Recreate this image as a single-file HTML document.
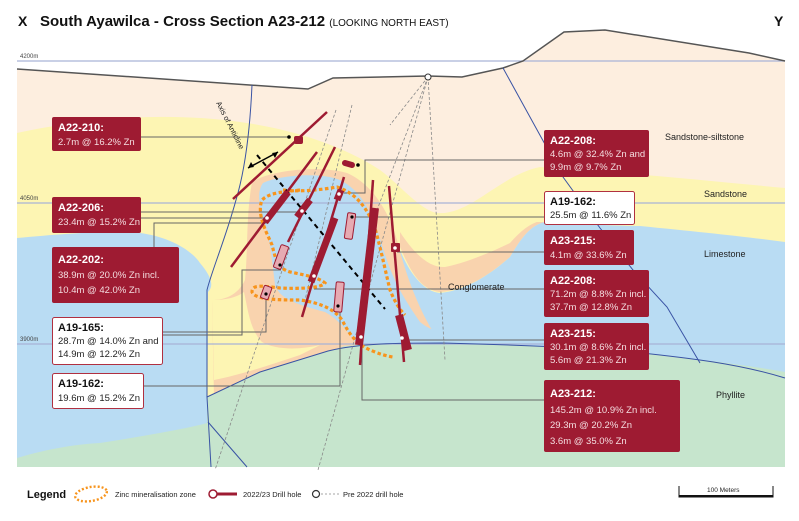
<!DOCTYPE html>
<html><head><meta charset="utf-8"><style>
html,body{margin:0;padding:0;background:#fff;}
svg{display:block;font-family:"Liberation Sans",sans-serif;}
.bt{font-weight:bold;font-size:11px;fill:#fff;}
.bs{font-size:9.5px;fill:#f4dde0;}
.wt{font-weight:bold;font-size:11px;fill:#111;}
.ws{font-size:9.5px;fill:#222;}
.lab{font-size:9px;fill:#222;}
.cn{stroke:#666;stroke-width:1;fill:none;}
</style></head><body>
<svg width="799" height="521" viewBox="0 0 799 521">
<rect width="799" height="521" fill="#fff"/>
<path d="M17,69 L308,89 L333,78 L428,76 L462,77 L503,68 L523,61 L564,32 L605,30 L749,53 L785,61 L785,467 L17,467 Z" fill="#fdeedf"/>
<path d="M17,133 C90,117 170,112 240,122 C300,130 350,150 380,170 C400,185 420,210 437,213 C470,216 500,175 540,167 C620,172 700,180 785,188 L785,467 L17,467 Z" fill="#fdf5b3"/>
<path d="M400,247 C410,270 420,290 440,292 C470,290 495,270 510,257 C520,240 530,225 545,222 L400,222 Z" fill="#f9d3ae"/>
<path d="M400,232 C415,255 430,268 445,267 C470,262 495,250 510,243 C520,232 530,222 545,220 L400,222 Z" fill="#fdf5b3"/>
<path d="M545,222 C580,224 620,226 640,226 C700,232 740,236 785,242 L785,467 L400,467 L400,250 C410,275 425,292 440,293 C470,290 495,270 510,257 C520,240 530,225 545,222 Z" fill="#b9dcf3"/>
<!-- peach rim around central zone and lower band -->
<path d="M252,182 C270,170 320,165 347,173 C372,184 388,210 397,240 C407,280 420,310 432,330 L410,360 L330,352 L300,360 C270,375 240,390 214,398 L212,300 C225,300 238,295 245,280 C248,250 246,215 252,182 Z" fill="#f9d3ae"/>
<path d="M212,300 C225,300 236,298 244,292 C248,310 250,330 262,342 C275,350 300,350 320,345 L300,355 C270,365 240,375 214,380 Z" fill="#fdf5b3"/>
<!-- central blue pocket -->
<path d="M263,183 C280,175 320,172 340,180 C360,190 372,210 382,245 C392,280 405,300 420,322 C440,338 460,335 470,330 L470,350 L390,355 L360,348 C350,335 340,320 325,312 C300,305 280,300 275,285 C272,260 270,235 262,215 C258,200 258,190 263,183 Z" fill="#b9dcf3"/>
<path d="M17,238 C60,234 110,230 140,233 C165,236 190,248 200,263 C210,275 215,285 208,292 L207,467 L17,467 Z" fill="#b9dcf3"/>
<path d="M17,458 C50,448 80,444 100,443 C150,435 190,428 207,423 L207,397 L260,372 L328,351 L345,346 C380,343 410,343 443,343 C520,345 590,348 633,352 C690,358 740,364 785,372 L785,467 L17,467 Z" fill="#c6e5cd"/>
<line x1="17" y1="61" x2="785" y2="61" stroke="#a9b3d6" stroke-width="1.3"/>
<line x1="17" y1="203" x2="785" y2="203" stroke="#a9b3d6" stroke-width="1.3"/>
<line x1="17" y1="344" x2="785" y2="344" stroke="#a9b3d6" stroke-width="1.3"/>
<text x="20" y="58" font-size="6" fill="#444">4200m</text>
<text x="20" y="200" font-size="6" fill="#444">4050m</text>
<text x="20" y="341" font-size="6" fill="#444">3900m</text>
<path d="M17,69 L308,89 L333,78 L428,76 L462,77 L503,68 L523,61 L564,32 L605,30 L749,53 L785,61" fill="none" stroke="#555" stroke-width="1.5"/>
<path d="M252,85 C250,130 245,170 236,200 C225,240 212,270 207,290 L207,397 L211,467" fill="none" stroke="#3953a4" stroke-width="1"/>
<path d="M208,422 L247,467" fill="none" stroke="#3953a4" stroke-width="1"/>
<path d="M207,397 L260,372 L328,351 C360,343 400,343 443,343 C520,345 590,348 633,352 C690,358 740,364 785,378" fill="none" stroke="#3953a4" stroke-width="1"/>
<path d="M503,68 L563,177 L600,228 L633,270 L667,307 L700,363" fill="none" stroke="#3953a4" stroke-width="1"/>
<g stroke="#888" stroke-width="0.8" stroke-dasharray="3,2" fill="none">
<line x1="428" y1="77" x2="318" y2="470"/>
<line x1="428" y1="77" x2="445" y2="360"/>
<line x1="428" y1="77" x2="390" y2="125"/>
<line x1="428" y1="77" x2="377" y2="210"/>
<line x1="352" y1="105" x2="305" y2="300"/>
<line x1="336" y1="110" x2="215" y2="470"/>
</g>
<g class="cn">
<polyline points="141,137 289,137"/>
<polyline points="544,160 365,160 365,193 344,193"/>
<polyline points="141,212 304,212"/>
<polyline points="141,218 270,218"/>
<polyline points="544,217 350,217"/>
<polyline points="154,247 154,223 268,223"/>
<polyline points="544,252 397,252"/>
<polyline points="162,335 242,335 242,270 281,270"/>
<polyline points="544,289 314,289"/>
<polyline points="162,332 266,332 266,294"/>
<polyline points="544,340 404,340"/>
<polyline points="143,386 340,386 340,300"/>
<polyline points="544,400 362,400 362,340"/>
</g>
<g fill="none" stroke="#f7941d" stroke-width="3.2" stroke-dasharray="3.5,2.5">
<path d="M300,190 C285,192 270,192 262,200 C256,215 268,235 272,245 C276,260 277,268 290,272 C305,275 320,278 325,283 C322,288 300,289 280,288 C262,286 252,284 252,292 C255,300 280,300 300,300 C322,303 335,310 342,320 C350,335 356,345 375,352 C385,356 393,357 393,357"/>
<path d="M283,190 C300,192 320,190 337,187 C355,193 365,205 374,225 C380,245 384,265 390,290 C396,305 402,312 405,315"/>
</g>
<line x1="257" y1="155" x2="385" y2="309" stroke="#000" stroke-width="2" stroke-dasharray="5,4"/>
<line x1="248" y1="168" x2="278" y2="152" stroke="#000" stroke-width="1.5"/>
<path d="M248,168 l6,-1 l-3,-5 z M278,152 l-6,1 l3,5 z" fill="#000"/>
<text transform="translate(216,103) rotate(63)" font-size="7.5" fill="#222">Axis of Anticline</text>
<g stroke="#9e1b32" stroke-linecap="butt">
<line x1="327" y1="112" x2="233" y2="199" stroke-width="2.5"/>
<line x1="317" y1="152" x2="231" y2="267" stroke-width="2.5"/>
<line x1="288" y1="192" x2="265" y2="222" stroke-width="7"/>
<line x1="335" y1="147" x2="288" y2="242" stroke-width="2.5"/>
<line x1="310" y1="200" x2="297" y2="217" stroke-width="7"/>
<line x1="344" y1="177" x2="302" y2="317" stroke-width="2.5"/>
<line x1="341" y1="190" x2="337" y2="200" stroke-width="7"/>
<line x1="335" y1="218" x2="311" y2="282" stroke-width="7"/>
<line x1="373" y1="180" x2="360" y2="365" stroke-width="2.5"/>
<line x1="375" y1="208" x2="359" y2="345" stroke-width="8"/>
<line x1="389" y1="186" x2="404" y2="362" stroke-width="2.5"/>
<line x1="399" y1="315" x2="408" y2="350" stroke-width="8"/>
<line x1="345" y1="163" x2="352" y2="165" stroke-width="6" stroke-linecap="round"/>
</g>
<g fill="#9e1b32"><rect x="294" y="136" width="9" height="8" rx="2"/><rect x="391" y="243" width="9" height="9" rx="1"/></g>
<g fill="#e6aab2" stroke="#9e1b32" stroke-width="1">
<rect x="346" y="213" width="8" height="26" rx="1.5" transform="rotate(8 350 226)"/>
<rect x="277" y="245" width="8" height="24" rx="1.5" transform="rotate(20 281 257)"/>
<rect x="262" y="286" width="8" height="13" rx="1.5" transform="rotate(20 266 293)"/>
<rect x="335" y="282" width="8" height="30" rx="1.5" transform="rotate(5 339 297)"/>
</g>
<g fill="#fff"><circle cx="267" cy="218" r="1.8"/><circle cx="302" cy="211" r="1.8"/><circle cx="339" cy="194" r="1.8"/><circle cx="314" cy="276" r="1.8"/><circle cx="361" cy="337" r="1.8"/><circle cx="402" cy="338" r="1.8"/><circle cx="395" cy="248" r="1.8"/></g>
<g fill="#000"><circle cx="289" cy="137" r="1.8"/><circle cx="358" cy="165" r="1.8"/><circle cx="352" cy="217" r="1.6"/><circle cx="280" cy="265" r="1.6"/><circle cx="266" cy="294" r="1.6"/><circle cx="338" cy="306" r="1.6"/></g>
<circle cx="428" cy="77" r="3" fill="#fff" stroke="#333" stroke-width="1"/>
<g fill="#9e1b32">
<rect x="52" y="117" width="89" height="34" rx="2"/>
<rect x="544" y="130" width="105" height="47" rx="2"/>
<rect x="52" y="197" width="89" height="36" rx="2"/>
<rect x="52" y="247" width="127" height="56" rx="2"/>
<rect x="544" y="230" width="90" height="35" rx="2"/>
<rect x="544" y="270" width="105" height="47" rx="2"/>
<rect x="544" y="323" width="105" height="47" rx="2"/>
<rect x="544" y="380" width="136" height="72" rx="2"/>
</g>
<g fill="#fff" stroke="#b03040" stroke-width="1">
<rect x="544.5" y="191.5" width="90" height="33" rx="2"/>
<rect x="52.5" y="317.5" width="110" height="47" rx="2"/>
<rect x="52.5" y="373.5" width="91" height="35" rx="2"/>
</g>
<text class="bt" x="58" y="131">A22-210:</text><text class="bs" x="58" y="145">2.7m @ 16.2% Zn</text>
<text class="bt" x="550" y="144">A22-208:</text><text class="bs" x="550" y="157">4.6m @ 32.4% Zn and</text><text class="bs" x="550" y="170">9.9m @ 9.7% Zn</text>
<text class="bt" x="58" y="211">A22-206:</text><text class="bs" x="58" y="225">23.4m @ 15.2% Zn</text>
<text class="bt" x="58" y="263" font-size="13">A22-202:</text><text class="bs" x="58" y="278" font-size="11">38.9m @ 20.0% Zn incl.</text><text class="bs" x="58" y="293" font-size="11">10.4m @ 42.0% Zn</text>
<text class="wt" x="550" y="205">A19-162:</text><text class="ws" x="550" y="218">25.5m @ 11.6% Zn</text>
<text class="bt" x="550" y="244">A23-215:</text><text class="bs" x="550" y="258">4.1m @ 33.6% Zn</text>
<text class="bt" x="550" y="284">A22-208:</text><text class="bs" x="550" y="297">71.2m @ 8.8% Zn incl.</text><text class="bs" x="550" y="310">37.7m @ 12.8% Zn</text>
<text class="wt" x="58" y="331">A19-165:</text><text class="ws" x="58" y="344">28.7m @ 14.0% Zn and</text><text class="ws" x="58" y="357">14.9m @ 12.2% Zn</text>
<text class="bt" x="550" y="337">A23-215:</text><text class="bs" x="550" y="350">30.1m @ 8.6% Zn incl.</text><text class="bs" x="550" y="363">5.6m @ 21.3% Zn</text>
<text class="wt" x="58" y="387">A19-162:</text><text class="ws" x="58" y="401">19.6m @ 15.2% Zn</text>
<text class="bt" x="550" y="397" font-size="13">A23-212:</text><text class="bs" x="550" y="413" font-size="11">145.2m @ 10.9% Zn incl.</text><text class="bs" x="550" y="428" font-size="11">29.3m @ 20.2% Zn</text><text class="bs" x="550" y="444" font-size="11">3.6m @ 35.0% Zn</text>
<text class="lab" x="665" y="140">Sandstone-siltstone</text>
<text class="lab" x="704" y="197">Sandstone</text>
<text class="lab" x="704" y="257">Limestone</text>
<text class="lab" x="448" y="290">Conglomerate</text>
<text class="lab" x="716" y="398">Phyllite</text>
<text x="18" y="26" font-size="14" font-weight="bold" fill="#111">X</text>
<text x="40" y="26" font-size="15" font-weight="bold" fill="#111">South Ayawilca - Cross Section A23-212 <tspan font-size="10" font-weight="normal">(LOOKING NORTH EAST)</tspan></text>
<text x="774" y="26" font-size="14" font-weight="bold" fill="#111">Y</text>
<text x="27" y="498" font-size="11" font-weight="bold" fill="#111">Legend</text>
<ellipse cx="91" cy="494" rx="16" ry="7" transform="rotate(-10 91 494)" fill="none" stroke="#f7941d" stroke-width="2.4" stroke-dasharray="2,2"/>
<text x="115" y="497" font-size="7.5" fill="#222">Zinc mineralisation zone</text>
<circle cx="213" cy="494" r="4" fill="#fff" stroke="#9e1b32" stroke-width="1.5"/>
<line x1="217" y1="494" x2="237" y2="494" stroke="#9e1b32" stroke-width="3"/>
<text x="243" y="497" font-size="7.5" fill="#222">2022/23 Drill hole</text>
<circle cx="316" cy="494" r="3.5" fill="#fff" stroke="#333" stroke-width="1.2"/>
<line x1="321" y1="494" x2="340" y2="494" stroke="#888" stroke-width="0.8" stroke-dasharray="2,2"/>
<text x="343" y="497" font-size="7.5" fill="#222">Pre 2022 drill hole</text>
<text x="707" y="492" font-size="6.5" fill="#222">100 Meters</text>
<path d="M679,486 L679,497 L773,497 L773,486" fill="none" stroke="#111" stroke-width="1"/>
<line x1="679" y1="496" x2="773" y2="496" stroke="#111" stroke-width="2"/>
</svg>
</body></html>
